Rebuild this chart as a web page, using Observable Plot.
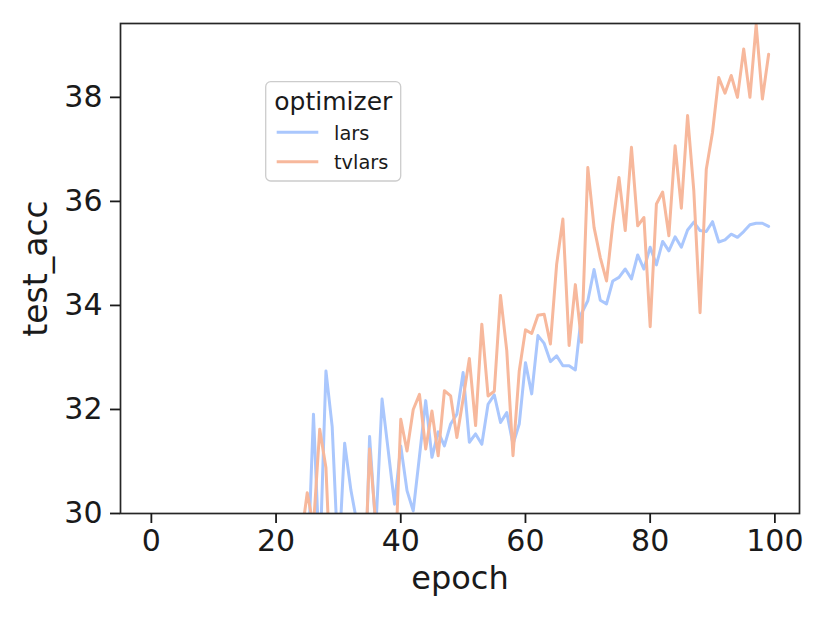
<!DOCTYPE html>
<html><head><meta charset="utf-8">
<script src="https://cdn.jsdelivr.net/npm/d3@7"></script>
<script src="https://cdn.jsdelivr.net/npm/@observablehq/plot@0.6"></script>
<style>
html,body{margin:0;padding:0;background:#fff;}
#wrap{position:relative;width:830px;height:623px;font-family:"DejaVu Sans",sans-serif;}
#wrap svg{display:block;}
#legend{position:absolute;left:0;top:0;pointer-events:none;}
</style></head><body><div id="wrap"></div>
<script>
// epochs shown (earlier epochs lie below the visible range)
const firstEpoch = 23;
const larsAcc = [
  28.0, 28.5, 28.7, 31.91, 29.0, 32.74, 31.67, 29.0, 31.35, 30.45,
  29.8, 27.5, 31.48, 29.7, 32.2, 31.2, 30.18, 31.3, 30.44, 30.05,
  31.1, 32.17, 31.08, 31.57, 31.3, 31.72, 31.91, 32.71, 31.37, 31.53,
  31.33, 32.1, 32.28, 31.75, 31.94, 31.33, 31.72, 32.9, 32.3, 33.42,
  33.27, 32.92, 33.03, 32.84, 32.84, 32.76, 33.85, 34.09, 34.69, 34.1,
  34.03, 34.47, 34.54, 34.7, 34.51, 34.97, 34.7, 35.12, 34.78, 35.23,
  35.05, 35.32, 35.12, 35.45, 35.6, 35.44, 35.42, 35.61, 35.22, 35.26,
  35.37, 35.31, 35.42, 35.55, 35.58, 35.58, 35.52
];
const tvlarsAcc = [
  28.8, 29.5, 30.4, 29.75, 31.62, 30.88, 28.1, 28.5, 28.9, 29.0,
  28.7, 28.1, 31.24, 29.8, 29.0, 29.3, 28.7, 31.81, 31.2, 32.0,
  32.29, 31.24, 31.97, 31.11, 32.36, 32.26, 31.46, 32.2, 32.98, 31.69,
  33.64, 32.26, 32.35, 34.19, 33.13, 31.11, 32.74, 33.53, 33.46, 33.81,
  33.83, 33.26, 34.79, 35.66, 33.23, 34.4, 33.29, 36.65, 35.5, 34.92,
  34.47, 35.56, 36.46, 35.44, 37.04, 35.53, 35.69, 33.59, 35.95, 36.18,
  35.34, 37.07, 35.87, 37.65, 36.2, 33.86, 36.62, 37.33, 38.38, 38.08,
  38.42, 38.0, 38.93, 38.0, 39.4, 37.97, 38.83
];
const seriesNames = ["lars", "tvlars"];
const seriesColors = ["#aac7fd", "#f7b89c"];
const xTicks = [0, 20, 40, 60, 80, 100];
const yTicks = [30, 32, 34, 36, 38];
const xLabel = "epoch";
const yLabel = "test_acc";
const legendTitle = "optimizer";

const seriesValues = [larsAcc, tvlarsAcc];
const rows = [];
seriesValues.forEach((vals, s) => vals.forEach((v, i) => rows.push({epoch: firstEpoch + i, acc: v, optimizer: seriesNames[s]})));

const ink = "#1a1a1a";
const chart = Plot.plot({
  width: 830, height: 623,
  marginLeft: 120, marginRight: 31, marginTop: 23, marginBottom: 110,
  style: {fontFamily: "DejaVu Sans", background: "white", color: ink},
  x: {domain: [-4.95, 103.95]},
  y: {domain: [30, 39.42]},
  color: {domain: seriesNames, range: seriesColors},
  marks: [
    Plot.line(rows, {x: "epoch", y: "acc", z: "optimizer", stroke: "optimizer", strokeWidth: 3, strokeLinejoin: "round", clip: true}),
    Plot.frame({stroke: "#262626", strokeWidth: 1.7}),
    Plot.axisX({ticks: xTicks, tickSize: 10, tickPadding: 6, fontSize: 30, strokeWidth: 1.8, label: null, color: ink}),
    Plot.axisY({ticks: yTicks, tickSize: 10, tickPadding: 8, fontSize: 30, strokeWidth: 1.8, label: null, color: ink}),
    Plot.text([xLabel], {frameAnchor: "bottom", dy: 75, fontSize: 32, fill: ink}),
    Plot.text([yLabel], {frameAnchor: "left", textAnchor: "middle", dx: -83.6, rotate: -90, fontSize: 33, fill: ink})
  ]
});
document.getElementById("wrap").appendChild(chart);

// legend overlay (upper-left inside the axes)
const lg = d3.select("#wrap").append("svg").attr("id", "legend").attr("width", 830).attr("height", 623);
lg.append("rect").attr("x", 265.7).attr("y", 81.7).attr("width", 135).attr("height", 99.3).attr("rx", 5)
  .attr("fill", "white").attr("fill-opacity", 0.8).attr("stroke", "#cccccc").attr("stroke-width", 1.3);
lg.append("text").attr("x", 333.3).attr("y", 110).attr("text-anchor", "middle")
  .attr("font-family", "DejaVu Sans").attr("font-size", 25).attr("fill", ink).text(legendTitle);
seriesNames.forEach((name, i) => {
  const cy = [132.3, 161.7][i];
  lg.append("line").attr("x1", 276.7).attr("x2", 318.3).attr("y1", cy).attr("y2", cy)
    .attr("stroke", seriesColors[i]).attr("stroke-width", 3);
  lg.append("text").attr("x", 334).attr("y", cy + 7.3).attr("font-family", "DejaVu Sans")
    .attr("font-size", 19.4).attr("fill", ink).text(name);
});
</script></body></html>
